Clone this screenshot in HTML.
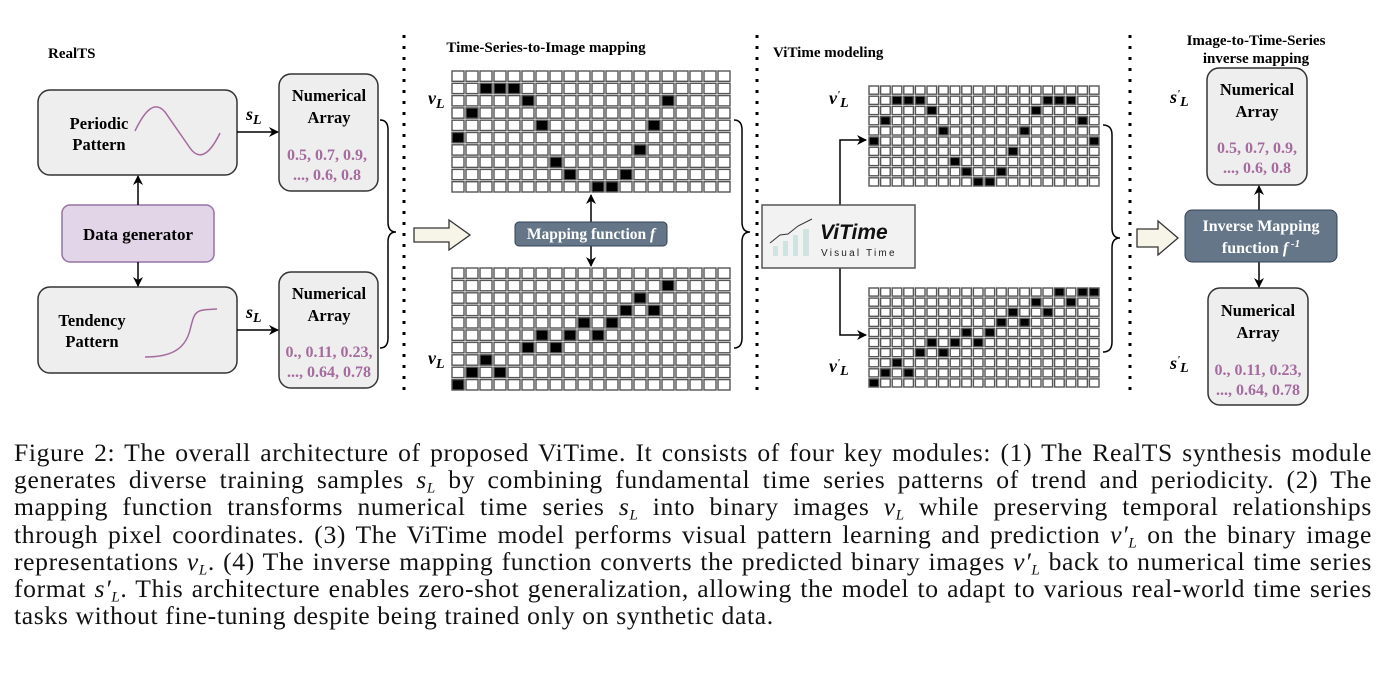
<!DOCTYPE html>
<html><head><meta charset="utf-8"><style>
body{margin:0;background:#fff;width:1384px;height:678px;overflow:hidden;position:relative;font-family:"Liberation Serif",serif}
svg{position:absolute;left:0;top:0}
.cap{position:absolute;left:14px;width:1358px;font-size:25.6px;letter-spacing:0.65px;line-height:27.2px;top:439px;color:#111}
.cap div{text-align:justify;text-align-last:justify;white-space:nowrap;height:27.2px}
.cap div.last{text-align-last:left}
.cap sub{font-size:15px;line-height:0;vertical-align:-0.3em}
i{font-style:italic}
</style></head><body>
<svg width="1384" height="430" viewBox="0 0 1384 430" font-family="Liberation Serif, serif">
<defs><marker id="a" markerWidth="10" markerHeight="10" refX="9" refY="5" orient="auto" markerUnits="userSpaceOnUse"><path d="M0,0 L10,5 L0,10 L3,5z" fill="#000"/></marker></defs>
<g font-weight="bold" font-size="15" fill="#000">
<text x="48" y="58">RealTS</text>
<text x="546" y="52" text-anchor="middle">Time-Series-to-Image mapping</text>
<text x="773" y="57">ViTime modeling</text>
<text x="1256" y="45" text-anchor="middle">Image-to-Time-Series</text>
<text x="1256" y="63" text-anchor="middle">inverse mapping</text>
</g>
<g stroke="#000" stroke-width="3" stroke-dasharray="3,8">
<line x1="404" y1="35" x2="404" y2="392"/><line x1="757" y1="35" x2="757" y2="392"/><line x1="1130" y1="35" x2="1130" y2="392"/>
</g>
<g stroke="#333" stroke-width="1.5">
<rect x="38" y="90" width="199" height="85" rx="12" fill="#eeeeee"/>
<rect x="38" y="287" width="199" height="86" rx="12" fill="#eeeeee"/>
<rect x="62" y="205" width="152" height="57" rx="8" fill="#e1d5e7" stroke="#9673a6"/>
<rect x="279" y="74" width="99" height="117" rx="12" fill="#eeeeee"/>
<rect x="279" y="272" width="99" height="116" rx="12" fill="#eeeeee"/>
<rect x="1207" y="68" width="100" height="117" rx="12" fill="#eeeeee"/>
<rect x="1208" y="288" width="100" height="117" rx="12" fill="#eeeeee"/>
</g>
<path d="M135,131 C145,110 155,100 165,112 L190,148 C197,158 207,160 220,133" fill="none" stroke="#a56a9e" stroke-width="1.5"/>
<path d="M145,357 C170,357 185,350 190,330 C195,310 195,310 217,309" fill="none" stroke="#a56a9e" stroke-width="1.5"/>
<g font-weight="bold" font-size="16.5" text-anchor="middle" fill="#000">
<text x="99" y="129">Periodic</text><text x="99" y="150">Pattern</text>
<text x="92" y="326">Tendency</text><text x="92" y="347">Pattern</text>
<text x="138" y="240" font-size="17">Data generator</text>
<text x="329" y="101">Numerical</text><text x="329" y="123">Array</text>
<text x="329" y="299">Numerical</text><text x="329" y="321">Array</text>
<text x="1257" y="95">Numerical</text><text x="1257" y="117">Array</text>
<text x="1258" y="316">Numerical</text><text x="1258" y="338">Array</text>
</g>
<g font-weight="bold" font-size="16" text-anchor="middle" fill="#a56a9e">
<text x="327" y="160">0.5, 0.7, 0.9,</text><text x="327" y="180">..., 0.6, 0.8</text>
<text x="329" y="357">0., 0.11, 0.23,</text><text x="329" y="377">..., 0.64, 0.78</text>
<text x="1257" y="153">0.5, 0.7, 0.9,</text><text x="1257" y="173">..., 0.6, 0.8</text>
<text x="1258" y="375">0., 0.11, 0.23,</text><text x="1258" y="395">..., 0.64, 0.78</text>
</g>
<g stroke="#000" stroke-width="1.5" fill="none" marker-end="url(#a)">
<line x1="237" y1="132" x2="278" y2="132"/><line x1="237" y1="330" x2="278" y2="330"/>
<line x1="138" y1="205" x2="138" y2="176"/><line x1="138" y1="262" x2="138" y2="286"/>
<line x1="591" y1="222" x2="591" y2="195"/><line x1="591" y1="246" x2="591" y2="266"/>
<path d="M840,205 V140 H866"/><path d="M840,268 V335 H866"/>
<line x1="1259" y1="210" x2="1259" y2="186"/><line x1="1259" y1="262" x2="1259" y2="287"/>
</g>
<g font-weight="bold" font-style="italic" font-size="18" fill="#000">
<text x="246" y="120">s<tspan font-size="14" dy="4">L</tspan></text>
<text x="246" y="318">s<tspan font-size="14" dy="4">L</tspan></text>
<text x="428" y="104">v<tspan font-size="14" dy="4">L</tspan></text>
<text x="428" y="364">v<tspan font-size="14" dy="4">L</tspan></text>
<text x="829" y="104">v<tspan font-size="11" dy="-6">'</tspan><tspan font-size="14" dy="9">L</tspan></text>
<text x="829" y="372">v<tspan font-size="11" dy="-6">'</tspan><tspan font-size="14" dy="9">L</tspan></text>
<text x="1170" y="103">s<tspan font-size="11" dy="-6">'</tspan><tspan font-size="14" dy="9">L</tspan></text>
<text x="1170" y="369">s<tspan font-size="11" dy="-6">'</tspan><tspan font-size="14" dy="9">L</tspan></text>
</g>
<g stroke="#000" stroke-width="1.5" fill="none">
<path d="M380,120 Q388,120 388,130 V222 Q388,232 396,232 Q388,232 388,242 V338 Q388,348 380,348"/>
<path d="M734,120 Q742,120 742,130 V222 Q742,232 750,232 Q742,232 742,242 V338 Q742,348 734,348"/>
<path d="M1103,125 Q1112,125 1112,135 V228 Q1112,238 1120,238 Q1112,238 1112,248 V342 Q1112,352 1103,352"/>
</g>
<path d="M414,228 H449 V220 L470,235 L449,250 V242 H414Z" fill="#f7f4e8" stroke="#333" stroke-width="1.3"/>
<path d="M1137,229 H1158 V221 L1178,238 L1158,255 V247 H1137Z" fill="#f7f4e8" stroke="#333" stroke-width="1.3"/>
<rect x="515" y="222" width="152" height="24" rx="4" fill="#647687" stroke="#314354"/>
<text x="591" y="239" text-anchor="middle" font-weight="bold" font-size="15.5" fill="#fff">Mapping function <tspan font-style="italic">f</tspan></text>
<rect x="1185" y="210" width="152" height="52" rx="7" fill="#647687" stroke="#314354"/>
<text x="1261" y="231" text-anchor="middle" font-weight="bold" font-size="16" fill="#fff">Inverse Mapping</text>
<text x="1261" y="253" text-anchor="middle" font-weight="bold" font-size="16" fill="#fff">function <tspan font-style="italic">f</tspan><tspan font-size="11" dy="-6" font-style="italic"> -1</tspan></text>
<rect x="762" y="205" width="153" height="63" fill="#f2f2f2" stroke="#555" stroke-width="1.5"/>
<g fill="#cfe3e0"><rect x="773" y="246" width="5" height="10"/><rect x="783" y="241" width="5" height="15"/><rect x="793" y="235" width="5" height="21"/><rect x="803" y="229" width="6" height="27"/></g>
<path d="M770,243 L780,235 L788,234 L798,226 L812,219" stroke="#333" fill="none" stroke-width="1"/>
<text x="820" y="239" font-family="Liberation Sans, sans-serif" font-weight="bold" font-style="italic" font-size="21" fill="#111">ViTime</text>
<text x="821" y="256" font-family="Liberation Sans, sans-serif" font-size="10" letter-spacing="2.2" fill="#222">Visual Time</text>
<g id="grids"></g>
</svg>
<div class="cap">
<div>Figure 2: The overall architecture of proposed ViTime. It consists of four key modules: (1) The RealTS synthesis module</div>
<div>generates diverse training samples <i>s<sub>L</sub></i> by combining fundamental time series patterns of trend and periodicity. (2) The</div>
<div>mapping function transforms numerical time series <i>s<sub>L</sub></i> into binary images <i>v<sub>L</sub></i> while preserving temporal relationships</div>
<div>through pixel coordinates. (3) The ViTime model performs visual pattern learning and prediction <i>v′<sub>L</sub></i> on the binary image</div>
<div>representations <i>v<sub>L</sub></i>. (4) The inverse mapping function converts the predicted binary images <i>v′<sub>L</sub></i> back to numerical time series</div>
<div>format <i>s′<sub>L</sub></i>. This architecture enables zero-shot generalization, allowing the model to adapt to various real-world time series</div>
<div class="last">tasks without fine-tuning despite being trained only on synthetic data.</div>
</div>
<script>
var g=document.getElementById('grids'),ns='http://www.w3.org/2000/svg';
function grid(x0,y0,cw,ch,black){
 var s={};black.forEach(function(r,ri){r.forEach(function(c){s[ri+','+c]=1;});});
 for(var r=0;r<10;r++)for(var c=0;c<20;c++){
  var e=document.createElementNS(ns,'rect');
  e.setAttribute('x',x0+c*cw+1);e.setAttribute('y',y0+r*ch+1);
  e.setAttribute('width',cw-2);e.setAttribute('height',ch-2);
  e.setAttribute('fill',s[r+','+c]?'#000':'#fff');
  e.setAttribute('stroke','#555');e.setAttribute('stroke-width','1.4');
  g.appendChild(e);}
}
grid(451,70,14,12.3,[[],[2,3,4],[5,15],[1],[6,14],[0],[13],[7],[8,12],[10,11]]);
grid(451,267,14,12.4,[[],[15],[13],[12,14],[9,11],[6,8,10],[5,7],[2],[1,3],[0]]);
grid(868,85,11.6,10.2,[[],[2,3,4,15,16,17],[5,14],[1,18],[6,13],[0,19],[12],[7],[8,11],[9,10]]);
grid(868,287,11.6,10.1,[[16,18,19],[14,17],[12,15],[11,13],[8,10],[5,7,9],[4,6],[2],[1,3],[0]]);
</script>
</body></html>
